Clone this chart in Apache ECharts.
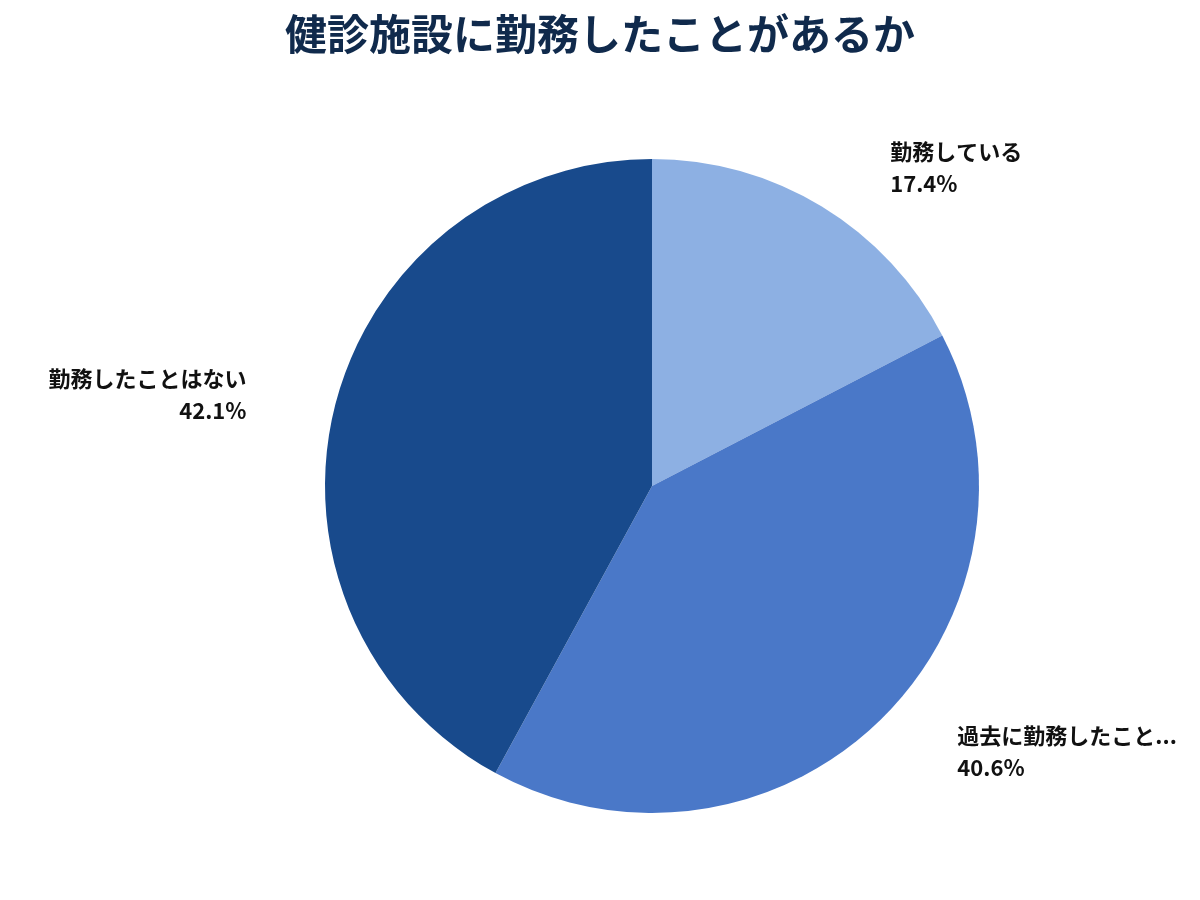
<!DOCTYPE html>
<html style="height: 100%">
<head>
<meta charset="utf-8">
<script src="https://cdn.jsdelivr.net/npm/echarts@6/dist/echarts.min.js"></script>
</head>
<body style="height: 100%; margin: 0; background: #fff;">
<div id="container" style="width:1200px;height:900px;"></div>
<script>
var categories = ['勤務している', '過去に勤務したことがある', '勤務したことはない'];
var values = [17.4, 40.6, 42.1];
var colors = ['#8db0e3', '#4a78c8', '#184a8c'];

var chart = echarts.init(document.getElementById('container'));
chart.setOption({
    animation: false,
    title: {
        text: '健診施設に勤務したことがあるか',
        left: 'center',
        top: 8,
        textStyle: { fontFamily: 'Noto Sans CJK JP', fontSize: 42, fontWeight: 'bold', color: '#102a4c' }
    },
    series: [{
        type: 'pie',
        center: [652, 486],
        radius: 327,
        startAngle: 90,
        clockwise: true,
        data: categories.map(function (c, i) {
            return { name: c, value: values[i], itemStyle: { color: colors[i] } };
        }),
        label: {
            position: 'outside',
            formatter: function (p) { return p.name + '\n' + p.value.toFixed(1) + '%'; },
            fontFamily: 'Noto Sans CJK JP',
            fontSize: 22,
            fontWeight: 'bold',
            color: '#111',
            lineHeight: 32,
            align: 'center'
        },
        labelLine: { show: false, length: 45, length2: 40 }
    }]
});
</script>
</body>
</html>
